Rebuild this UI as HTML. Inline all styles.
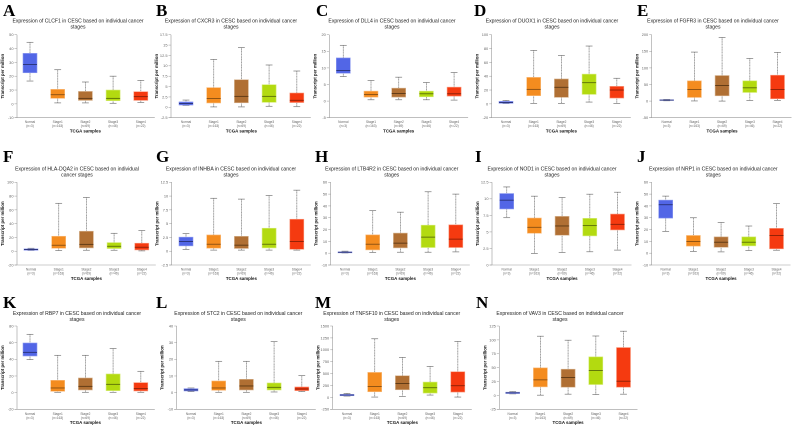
<!DOCTYPE html>
<html lang="en">
<head>
<meta charset="utf-8">
<title>Expression of genes in CESC by cancer stage</title>
<style>
html,body{margin:0;padding:0;background:#fff;}
#figure{display:block;width:793px;height:427px;font-family:"Liberation Sans",sans-serif;filter:blur(0.25px);}
.letter{font-family:"Liberation Serif",serif;font-weight:bold;font-size:17px;fill:#000;}
.title{font-size:5.1px;fill:#222;text-anchor:middle;}
.tick{font-size:3.9px;fill:#666;text-anchor:end;}
.cat{font-size:3.2px;fill:#666;text-anchor:middle;}
.axis-title{font-size:4.4px;font-weight:bold;fill:#111;text-anchor:middle;}
</style>
</head>
<body>
<svg id="figure" xmlns="http://www.w3.org/2000/svg" width="793" height="427" viewBox="0 0 793 427"></svg>
<script>
const categories = ['Normal', 'Stage1', 'Stage2', 'Stage3', 'Stage4'];
const sampleCounts = ['(n=3)', '(n=163)', '(n=69)', '(n=46)', '(n=22)'];

// Each row: [whisker low, Q1, median, Q3, whisker high]
const statsClcf1 = [[16.5,22.5,28.5,36.5,44.5],[0.7,4,6.6,10.5,24.7],[0.7,2.5,4,9,15.8],[0.4,2.3,4,10,20],[1,2.5,5.2,8.8,17]];
const statsCxcr3 = [[0.45,0.55,0.9,1.3,1.75],[0.1,1.05,2.15,4.75,11.55],[0.1,1.1,2.65,6.65,14.4],[0.25,1.2,2.65,5.45,10.2],[0.15,1.15,1.7,3.45,8.75]];
const statsDll4 = [[7.4,8.4,9.2,13,16.8],[0.4,1.2,2,3,6.2],[0.4,1.2,2.3,3.9,7.2],[0.4,1.3,2.2,3,5.6],[0.3,1.5,2.2,4.2,8.6]];
const statsDuox1 = [[0.3,0.8,2,3.6,5],[0.7,11.8,21,38.3,77.3],[0.7,9.4,24,36,70],[2.6,13.7,30.6,43,83.6],[0.7,8.4,20,25.3,37]];
const statsFgfr3 = [[1,2,3,4,5],[0.5,11,35,61,147.6],[0,16,47,77,191.7],[2,26,40,61,128.5],[2,7,35,78,146.6]];
const statsHlaDqa2 = [[1,1.4,2.4,3.4,4.3],[1,4.3,8.7,21.7,69.5],[1.4,4.8,10,29,78],[1.4,3.9,7.2,12.5,26],[0.5,1.9,5.8,11.6,30]];
const statsInhba = [[0.3,0.97,1.75,2.55,3.2],[0.2,0.55,1.27,2.95,9.6],[0.2,0.5,1.1,2.7,9.45],[0.2,0.6,1.27,4.17,10.1],[0.2,0.35,1.75,5.8,11.07]];
const statsLtb4r2 = [[0.2,0.3,0.8,1.1,1.7],[0.6,2.8,7.6,15.5,36],[0.8,4.5,8.5,17,34.7],[0.8,4.8,13.6,23.7,52],[1.1,4.8,11.9,24,50]];
const statsNod1 = [[7.15,8.47,9.8,10.8,11.8],[1.75,4.8,5.7,7.1,10.4],[1.9,4.5,5.9,7.35,10.2],[2,4.4,5.95,7.05,10.7],[2.25,5.3,6.15,7.7,11]];
const statsNrp1 = [[18.4,29.7,41,44.9,48.3],[1.4,6,9.9,15,30],[1.1,5,9.3,13.8,26],[2.3,6.2,9.3,13.8,23],[2.5,3.7,15,21,42]];
const statsRbp7 = [[39.6,44,48.4,59.6,70],[0.4,1.6,5.6,14.8,44.8],[0.4,3.2,7.6,17.6,44.8],[0.4,2.4,10,22.4,53],[0.4,2,4.8,12,25.6]];
const statsStc2 = [[0.6,1,1.6,2.4,2.8],[0.2,1.4,2.8,7,18.8],[0.2,1.6,4,8,18.8],[0.4,1.6,3.2,5.8,30.6],[0.6,1.2,2.2,3.4,10.2]];
const statsTnfsf10 = [[28,35,50,63,84],[7,119,231,525,1232],[21,161,294,455,840],[49,91,203,322,651],[7,112,245,539,1176]];
const statsVav3 = [[2.8,3.4,4.6,5.8,7],[0.4,15.4,28,49.6,106.6],[2.2,14.8,32.2,47.2,99.4],[1.6,19.6,44.8,69.4,107],[2.2,14.8,25.6,86.2,115.6]];

const ticksClcf1 = [-10,0,10,20,30,40,50];
const ticksCxcr3 = [-2.5,0,2.5,5,7.5,10,12.5,15,17.5];
const ticksDll4 = [-5,0,5,10,15,20];
const ticksPct100 = [-20,0,20,40,60,80,100];
const ticksFgfr3 = [-50,0,50,100,150,200];
const ticksInhba = [-2.5,0,2.5,5,7.5,10,12.5];
const ticksTen60 = [-10,0,10,20,30,40,50,60];
const ticksNod1 = [0,2.5,5,7.5,10,12.5];
const ticksRbp7 = [-20,0,20,40,60,80];
const ticksStc2 = [-10,0,10,20,30,40];
const ticksTnfsf10 = [-250,0,250,500,750,1000,1250,1500];
const ticksVav3 = [-25,0,25,50,75,100,125];

const fills = ['#5266e6', '#f48c1f', '#b06f33', '#b3da10', '#f53a10'];
const edges = ['#8f9cf0', '#f9bd80', '#d8b592', '#d6ec78', '#fa9b80'];
const medians = ['#232a66', '#7a4610', '#50300f', '#4f6006', '#7d1c05'];

const NS = 'http://www.w3.org/2000/svg';
const svg = document.getElementById('figure');
const STEP = 27.7;

function make(tag, attrs, parent, text) {
  const node = document.createElementNS(NS, tag);
  for (const k in attrs) node.setAttribute(k, attrs[k]);
  if (text !== undefined) node.textContent = text;
  parent.appendChild(node);
  return node;
}

function drawPanel(p, ticks, stats) {
  const g = make('g', {}, svg);
  
  

  const yMin = ticks[0], yMax = ticks[ticks.length - 1];
  const yScale = v => p.bottom - (v - yMin) / (yMax - yMin) * (p.bottom - p.top);
  const xScale = i => p.c0 + i * STEP;

  const letter = make('text', {x: p.lx, y: p.ly, class: 'letter'}, g, p.letter);
  
  

  p.title.forEach((line, i) => {
    const t = make('text', {x: p.tx, y: p.ty + i * 6, class: 'title'}, g, line);
    
    
  });

  const yAxis = make('line', {x1: p.ax, x2: p.ax, y1: p.top, y2: p.bottom, stroke: '#999', 'stroke-width': 0.6}, g);
  
  

  const xAxis = make('line', {x1: p.ax - 2.5, x2: xScale(4) + 14, y1: p.bottom, y2: p.bottom, stroke: '#999', 'stroke-width': 0.6}, g);
  
  

  ticks.forEach(v => {
    const y = yScale(v);
    const mark = make('line', {x1: p.ax - 2.5, x2: p.ax, y1: y, y2: y, stroke: '#999', 'stroke-width': 0.5}, g);
    
    
    const label = make('text', {x: p.ax - 3.5, y: y + 1.4, class: 'tick'}, g, String(v));
    
    
  });

  const yTitle = make('text', {class: 'axis-title', transform: 'translate(' + (p.ax - 13) + ' ' + ((p.top + p.bottom) / 2) + ') rotate(-90)'}, g, 'Transcript per million');
  
  

  const xTitle = make('text', {x: xScale(2), y: p.bottom + 14.8, class: 'axis-title'}, g, 'TCGA samples');
  
  

  stats.forEach((s, i) => {
    const cx = xScale(i);
    const box = make('g', {}, g);
    
    

    make('line', {x1: cx, x2: cx, y1: yScale(s[4]), y2: yScale(s[0]), stroke: '#8a8a8a', 'stroke-width': 0.8, 'stroke-dasharray': '1.2 0.4'}, box);
    make('line', {x1: cx - 3.4, x2: cx + 3.4, y1: yScale(s[4]), y2: yScale(s[4]), stroke: '#777', 'stroke-width': 0.7}, box);
    make('line', {x1: cx - 3.4, x2: cx + 3.4, y1: yScale(s[0]), y2: yScale(s[0]), stroke: '#777', 'stroke-width': 0.7}, box);
    make('rect', {x: cx - 7, y: yScale(s[3]), width: 14, height: Math.max(yScale(s[1]) - yScale(s[3]), 0.5), fill: fills[i], stroke: edges[i], 'stroke-width': 0.6}, box);
    make('line', {x1: cx - 7, x2: cx + 7, y1: yScale(s[2]), y2: yScale(s[2]), stroke: medians[i], 'stroke-width': 0.8}, box);

    const cat = make('text', {x: cx, y: p.bottom + 5.5, class: 'cat'}, g, categories[i]);
    
    
    const cnt = make('text', {x: cx, y: p.bottom + 9.5, class: 'cat'}, g, sampleCounts[i]);
    
    
  });
}

const std = g => ['Expression of ' + g + ' in CESC based on individual cancer', 'stages'];

drawPanel({letter:'A', gene:'CLCF1', title:std('CLCF1'), lx:3, ly:16, tx:78, ty:22.5, ax:17, top:34.7, bottom:117.7, c0:30}, ticksClcf1, statsClcf1);
drawPanel({letter:'B', gene:'CXCR3', title:std('CXCR3'), lx:156, ly:16, tx:231, ty:22.5, ax:171, top:34.7, bottom:117.7, c0:186}, ticksCxcr3, statsCxcr3);
drawPanel({letter:'C', gene:'DLL4', title:std('DLL4'), lx:316, ly:16, tx:392, ty:22.5, ax:329.3, top:34.7, bottom:117.7, c0:343.3}, ticksDll4, statsDll4);
drawPanel({letter:'D', gene:'DUOX1', title:std('DUOX1'), lx:474, ly:16, tx:552, ty:22.5, ax:491.7, top:34.7, bottom:117.7, c0:506}, ticksPct100, statsDuox1);
drawPanel({letter:'E', gene:'FGFR3', title:std('FGFR3'), lx:637, ly:16, tx:713, ty:22.5, ax:651.7, top:34.7, bottom:117.7, c0:666.7}, ticksFgfr3, statsFgfr3);

drawPanel({letter:'F', gene:'HLA-DQA2', title:['Expression of HLA-DQA2 in CESC based on individual', 'cancer stages'], lx:3, ly:162, tx:77, ty:170.5, ax:17, top:182.3, bottom:265, c0:31}, ticksPct100, statsHlaDqa2);
drawPanel({letter:'G', gene:'INHBA', title:std('INHBA'), lx:156, ly:162, tx:231, ty:170.5, ax:171.7, top:182.3, bottom:265, c0:186}, ticksInhba, statsInhba);
drawPanel({letter:'H', gene:'LTB4R2', title:std('LTB4R2'), lx:315, ly:162, tx:391.7, ty:170.5, ax:330.7, top:182.3, bottom:265, c0:345}, ticksTen60, statsLtb4r2);
drawPanel({letter:'I', gene:'NOD1', title:std('NOD1'), lx:475, ly:162, tx:552, ty:170.5, ax:492, top:182.3, bottom:265, c0:506.7}, ticksNod1, statsNod1);
drawPanel({letter:'J', gene:'NRP1', title:std('NRP1'), lx:637, ly:162, tx:713.3, ty:170.5, ax:651.7, top:182.3, bottom:265, c0:665.7}, ticksTen60, statsNrp1);

drawPanel({letter:'K', gene:'RBP7', title:std('RBP7'), lx:3, ly:308, tx:77, ty:315, ax:17, top:326, bottom:409.3, c0:30}, ticksRbp7, statsRbp7);
drawPanel({letter:'L', gene:'STC2', title:std('STC2'), lx:156, ly:308, tx:238.3, ty:315, ax:176.7, top:326, bottom:409.3, c0:191}, ticksStc2, statsStc2);
drawPanel({letter:'M', gene:'TNFSF10', title:std('TNFSF10'), lx:315, ly:308, tx:391.7, ty:315, ax:332.7, top:326, bottom:409.3, c0:347}, ticksTnfsf10, statsTnfsf10);
drawPanel({letter:'N', gene:'VAV3', title:std('VAV3'), lx:476, ly:308, tx:560, ty:315, ax:499.3, top:326, bottom:409.3, c0:512.7}, ticksVav3, statsVav3);
</script>
</body>
</html>
